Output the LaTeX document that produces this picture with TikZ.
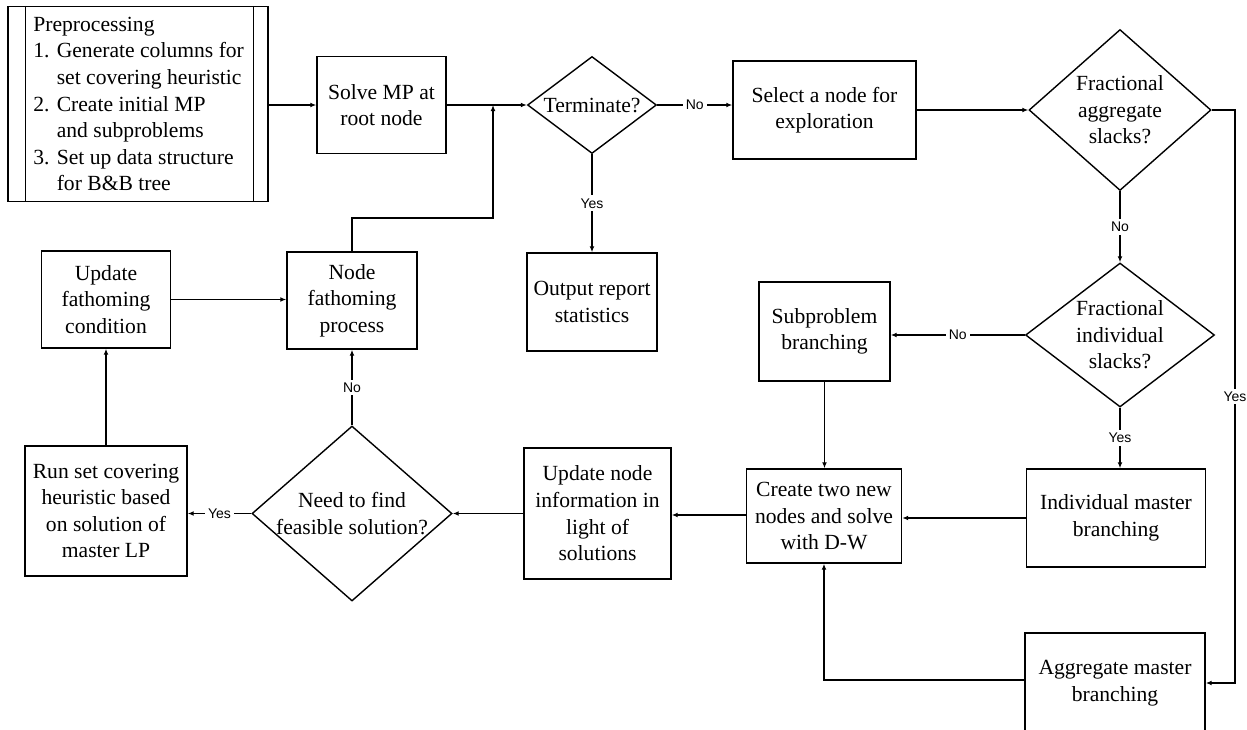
\documentclass[tikz,border=0pt]{standalone}
\usepackage{fontspec}
\setmainfont{Liberation Serif}
\newfontfamily\lblfamily{Liberation Sans}
\usetikzlibrary{arrows.meta,shapes.geometric}
\newcommand\mainsz{\fontsize{10.8pt}{13.3pt}\selectfont}
\newcommand\lblsz{\lblfamily\fontsize{7pt}{8pt}\selectfont}
\begin{document}
\begin{tikzpicture}[x=0.5pt,y=-0.5pt,
  ln/.style={line width=0.7pt},
  box/.style={draw,ln,rectangle,inner sep=0pt,align=center,font=\mainsz},
  dia/.style={draw,ln,shape=diamond,inner sep=0pt},
  txt/.style={align=center,font=\mainsz,inner sep=0pt},
  sz/.style 2 args={minimum width=#1*0.5pt,minimum height=#2*0.5pt},
  lbl/.style={fill=white,font=\lblsz,inner sep=1.5pt},
  arr/.style={ln,-{Latex[length=3pt,width=2.4pt]}}]
\useasboundingbox (0,0) rectangle (1247,729);
\clip (0,0) rectangle (1247,729);
% preprocessing
\node[box,sz={260}{195}] (pre) at (138,104) {};
\draw[ln] (pre.north west) ++(18,0) -- ++(0,195);
\draw[ln] (pre.north east) ++(-15,0) -- ++(0,195);
\node[txt,anchor=west,align=left] (pret) at (33,104) {Preprocessing\\1. Generate columns for\\\phantom{1. }set covering heuristic\\2. Create initial MP\\\phantom{2. }and subproblems\\3. Set up data structure\\\phantom{3. }for B\&B tree};
% boxes
\node[box,sz={129}{97}] (solve) at (381.5,105) {Solve MP at\\root node};
\node[box,sz={183}{98}] (sel) at (824.5,110) {Select a node for\\exploration};
\node[box,sz={130}{98}] (out) at (592,302) {Output report\\statistics};
\node[box,sz={131}{99}] (sub) at (824.5,331.5) {Subproblem\\branching};
\node[box,sz={179}{98}] (im) at (1116,518) {Individual master\\branching};
\node[box,sz={180}{100}] (am) at (1115,683) {Aggregate master\\branching};
\node[box,sz={155}{94}] (create) at (824,516) {Create two new\\nodes and solve\\with D-W};
\node[box,sz={147}{131}] (upd) at (597.5,513.5) {Update node\\information in\\light of\\solutions};
\node[box,sz={130}{97}] (nf) at (352,300.5) {Node\\fathoming\\process};
\node[box,sz={129}{97}] (uf) at (106,299.5) {Update\\fathoming\\condition};
\node[box,sz={162}{130}] (rsc) at (106,511) {Run set covering\\heuristic based\\on solution of\\master LP};
% diamonds
\node[dia,sz={129}{97}] (term) at (592,105) {};
\node[txt] (termt) at (term.center) {Terminate?};
\node[dia,sz={182}{161}] (fa) at (1120,110) {};
\node[txt] (fat) at (fa.center) {Fractional\\aggregate\\slacks?};
\node[dia,sz={189}{144}] (fi) at (1120,335) {};
\node[txt] (fit) at (fi.center) {Fractional\\individual\\slacks?};
\node[dia,sz={200}{175}] (need) at (352,513.5) {};
\node[txt] (needt) at (need.center) {Need to find\\feasible solution?};
% helper coordinates
\coordinate (j) at (493,105);
\coordinate (jb) at (493,218);
\coordinate (r1) at (1235,110);
\coordinate (r2) at (1235,683);
% connectors
\draw[arr] (pre.east |- solve.west) -- (solve.west);
\draw[arr] (solve.east) -- (term.west);
\draw[arr] (nf.north) |- (jb) -- (j);
\draw[arr] (term.east) -- node[lbl]{No} (sel.west |- term.east);
\draw[arr] (term.south) -- node[lbl]{Yes} (out.north);
\draw[arr] (sel.east) -- (fa.west);
\draw[arr] (fa.east) -- (r1) -- node[lbl]{Yes} (r2) -- (am.east);
\draw[arr] (fa.south) -- node[lbl]{No} (fi.north);
\draw[arr] (fi.west) -- node[lbl]{No} (sub.east |- fi.west);
\draw[arr] (fi.south) -- node[lbl]{Yes} (fi.south |- im.north);
\draw[arr] (sub.south) -- (sub.south |- create.north);
\draw[arr] (im.west) -- (create.east |- im.west);
\draw[arr] (am.west |- 0,680) -| (create.south);
\draw[arr] (create.west |- 0,515) -- (upd.east |- 0,515);
\draw[arr] (upd.west |- need.east) -- (need.east);
\draw[arr] (need.north) -- node[lbl]{No} (nf.south);
\draw[arr] (need.west) -- node[lbl]{Yes} (rsc.east |- need.west);
\draw[arr] (rsc.north) -- (rsc.north |- uf.south);
\draw[arr] (uf.east) -- (nf.west |- uf.east);
\end{tikzpicture}
\end{document}
